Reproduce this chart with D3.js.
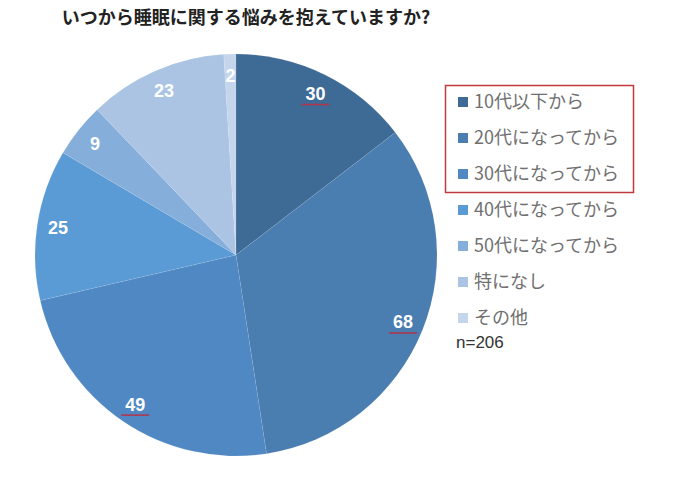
<!DOCTYPE html>
<html><head><meta charset="utf-8">
<script src="https://cdn.jsdelivr.net/npm/d3@7"></script>
<style>body{margin:0;background:#fff;}svg{display:block;}</style>
</head><body>
<svg id="c" width="690" height="497"></svg>
<script>
const categories = ["10代以下から","20代になってから","30代になってから","40代になってから","50代になってから","特になし","その他"];
const values = [30,68,49,25,9,23,2];
const colors = ["#3e6a96","#4a7db0","#4f88c3","#5b9bd5","#85aedb","#abc4e4","#c5d5ec"];
const underlined = [true,true,true,false,false,false,false];
const title = "いつから睡眠に関する悩みを抱えていますか?";
const nLabel = "n=206";

const svg = d3.select("#c");
const cx = 236, cy = 255, R = 201;
const jp = "'Noto Sans CJK JP','Noto Sans',sans-serif";

svg.append("text").attr("x",246).attr("y",24).attr("text-anchor","middle")
  .attr("font-family",jp).attr("font-weight","bold").attr("font-size",18)
  .attr("fill","#222").text(title);

const pie = d3.pie().sort(null).value(d=>d);
const arcs = pie(values);
const arc = d3.arc().innerRadius(0).outerRadius(R);
const labelArc = d3.arc().innerRadius(180).outerRadius(180);

const g = svg.append("g").attr("transform",`translate(${cx},${cy})`);
g.selectAll("path").data(arcs).join("path")
  .attr("d",arc).attr("fill",(d,i)=>colors[i])
  .attr("stroke","#ffffff").attr("stroke-opacity",0.15).attr("stroke-width",0.5);

const lab = g.selectAll("g.lab").data(arcs).join("g").attr("class","lab")
  .attr("transform",d=>`translate(${labelArc.centroid(d)})`);
lab.append("text").attr("text-anchor","middle").attr("dy","0.36em")
  .attr("font-family","'Liberation Sans',Arial,sans-serif").attr("font-weight","bold")
  .attr("font-size",18).attr("fill","#fff").text(d=>d.data);
lab.filter((d,i)=>underlined[i]).append("line")
  .attr("x1",-14).attr("x2",14).attr("y1",11).attr("y2",11)
  .attr("stroke","#b3344a").attr("stroke-width",1.5);

// legend
const lx = 458, ly0 = 102, step = 36;
const leg = svg.append("g");
const rows = leg.selectAll("g").data(categories).join("g")
  .attr("transform",(d,i)=>`translate(${lx},${ly0+i*step})`);
rows.append("rect").attr("x",0).attr("y",-5).attr("width",10).attr("height",10)
  .attr("fill",(d,i)=>colors[i]);
rows.append("text").attr("x",16).attr("y",0).attr("dy","0.36em")
  .attr("font-family",jp).attr("font-size",18).attr("fill","#707070").text(d=>d);

svg.append("rect").attr("x",445.5).attr("y",85.5).attr("width",188).attr("height",107)
  .attr("fill","none").attr("stroke","#c0393f").attr("stroke-width",1.5);

svg.append("text").attr("x",456).attr("y",342).attr("dy","0.36em")
  .attr("font-family","'Liberation Sans',Arial,sans-serif").attr("font-size",17)
  .attr("fill","#333").text(nLabel);
</script>
</body></html>
